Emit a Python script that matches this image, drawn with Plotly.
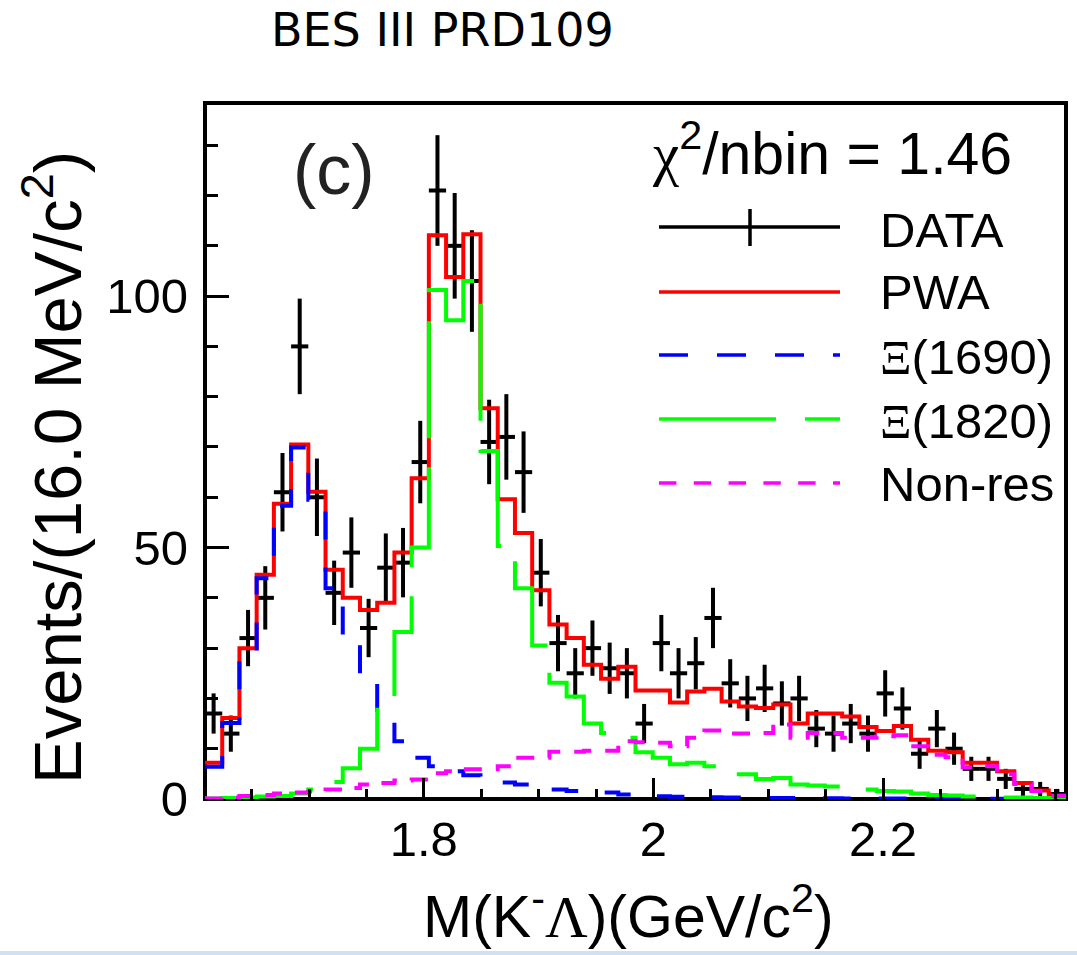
import numpy as np
import plotly.graph_objects as go

# Histogram binning of M(K-Lambda)
hist_lo = 1.6094
bin_width = 0.015
n_bins = 50
edges = hist_lo + bin_width * np.arange(n_bins + 1)
centers = edges[:-1] + bin_width / 2

# Data points (events per bin) and their statistical errors
data_counts = [17, 13, 32, 40, 61, 90, 60, 41, 49, 34, 46, 47, 67, 121, 110, 103, 71, 72, 65, 45,
               31, 25, 30, 26, 25, 15, 31, 25, 27, 36, 23, 20, 22, 19, 20, 14, 13, 15, 13, 21,
               18, 9, 14, 10, 6, 6, 4, 2, 2, 1]
data_errors = [4.0, 3.6, 5.6, 6.3, 7.8, 9.5, 7.7, 6.4, 7.0, 5.8, 6.8, 6.9, 8.2, 11.0, 10.5, 10.1, 8.4, 8.5, 8.1, 6.7,
               5.6, 5.0, 5.5, 5.1, 5.0, 3.9, 5.6, 5.0, 5.2, 6.0, 4.8, 4.5, 4.7, 4.4, 4.5, 3.7, 3.6, 3.9, 3.6, 4.6,
               4.2, 3.0, 3.7, 3.2, 2.4, 2.4, 2.0, 1.4, 1.4, 1.0]

# Fit projections
pwa = [7.2, 16.1, 30.0, 44.6, 58.7, 70.5, 61.1, 45.6, 40.0, 37.6, 39.0, 49.0, 63.8, 112.1, 103.8, 112.3, 77.7, 59.6, 52.9, 41.5,
       34.7, 32.0, 26.7, 23.9, 26.3, 21.6, 21.6, 19.2, 21.4, 21.9, 19.4, 18.4, 18.1, 18.8, 15.0, 17.0, 17.0, 16.4, 14.3, 13.5,
       14.5, 11.8, 9.6, 9.3, 7.2, 7.2, 5.5, 3.2, 1.7, 0.7]
xi1690 = [6.4, 15.1, 29.5, 43.9, 58.3, 69.9, 59.5, 41.9, 32.3, 23.2, 16.4, 11.5, 8.2, 6.5, 5.5, 4.7, 4.0, 3.3, 2.9, 2.5,
          1.9, 1.6, 1.4, 1.3, 0.9, 0.55, 0.55, 0.45, 0.35, 0.35, 0.3, 0.25, 0.2, 0.2, 0.18, 0.15, 0.13, 0.12, 0.1, 0.1,
          0.08, 0.07, 0.06, 0.05, 0.05, 0.04, 0.03, 0.03, 0.02, 0.01]
xi1820 = [0.1, 0.2, 0.3, 0.5, 0.6, 1.1, 1.9, 3.4, 6.1, 10.0, 19.4, 33.2, 50.0, 101.2, 95.2, 103.0, 69.2, 50.3, 41.9, 30.5,
          23.1, 20.4, 15.0, 13.1, 12.2, 9.3, 8.2, 6.9, 7.2, 6.5, 5.8, 4.9, 4.0, 4.2, 2.9, 2.7, 2.5, 2.2, 1.9, 1.6,
          1.5, 1.1, 0.8, 0.7, 0.5, 0.4, 0.3, 0.3, 0.2, 0.2]
nonres = [0.1, 0.3, 0.6, 0.8, 1.1, 1.3, 1.5, 1.9, 2.2, 2.9, 3.2, 3.7, 3.9, 5.1, 5.5, 5.9, 5.9, 6.5, 8.2, 8.2,
          9.4, 9.4, 9.6, 9.6, 11.5, 11.3, 11.2, 10.5, 12.2, 13.6, 13.0, 13.0, 13.1, 14.8, 12.2, 13.1, 13.1, 12.2, 12.2, 12.5,
          12.7, 10.5, 8.8, 8.3, 6.3, 6.5, 4.9, 3.0, 1.6, 0.6]

# Axis ticks
x_tick_vals = [1.8, 2.0, 2.2]
x_tick_text = ["1.8", "2", "2.2"]
y_tick_vals = [0, 50, 100]
y_tick_text = ["0", "50", "100"]

legend_labels = ["DATA", "PWA",
                 "<span style='font-family:Liberation Serif'>Ξ</span>(1690)",
                 "<span style='font-family:Liberation Serif'>Ξ</span>(1820)",
                 "Non-res"]

W, H = 1077, 955
L, R, T, B = 205, 1066, 103, 799
SANS = "Liberation Sans, Arial, Helvetica, sans-serif"


def px(x):
    return (x - L) / (R - L)


def py(y):
    return (B - y) / (B - T)


fig = go.Figure()

# data with error bars
fig.add_trace(go.Scatter(
    x=centers, y=data_counts, mode="markers",
    marker=dict(size=1, color="black"),
    error_x=dict(type="constant", value=bin_width / 2, width=0, thickness=4, color="black"),
    error_y=dict(type="data", array=data_errors, width=0, thickness=4, color="black"),
    showlegend=False, hoverinfo="skip"))


def add_step(vals, color, dash):
    fig.add_trace(go.Scatter(
        x=edges, y=list(vals) + [vals[-1]], mode="lines",
        line=dict(shape="hv", color=color, width=4, dash=dash),
        showlegend=False, hoverinfo="skip"))


add_step(pwa, "#ff0000", "solid")
add_step(xi1690, "#0000ff", "28px,28px")
add_step(xi1820, "#00ff00", "117px,29px")
add_step(nonres, "#ff00ff", "18px,14px")

shapes = [
    # frame
    dict(type="rect", xref="paper", yref="paper", x0=0, x1=1, y0=0, y1=1,
         line=dict(color="black", width=4), layer="below"),
    # page strip at the bottom
    dict(type="rect", xref="paper", yref="paper", x0=px(0), x1=px(W), y0=py(955), y1=py(951),
         line=dict(width=0), fillcolor="#cfe1f7", layer="below"),
]

# legend keys
leg_x0, leg_x1 = 659, 840
leg_rows = [227, 292, 355, 419, 483]
leg_styles = [("black", "solid"), ("#ff0000", "solid"), ("#0000ff", "29px,29px"),
              ("#00ff00", "117px,29px"), ("#ff00ff", "17.4px,17.4px")]
for yy, (c, d) in zip(leg_rows, leg_styles):
    shapes.append(dict(type="line", xref="paper", yref="paper", x0=px(leg_x0), x1=px(leg_x1),
                       y0=py(yy), y1=py(yy), line=dict(color=c, width=3.5, dash=d)))
shapes.append(dict(type="line", xref="paper", yref="paper", x0=px(750), x1=px(750),
                   y0=py(209), y1=py(246), line=dict(color="black", width=3.5)))

annotations = []


def text(x, y, s, size, xanchor="center", color="black", family=SANS, angle=0):
    annotations.append(dict(x=px(x), y=py(y), xref="paper", yref="paper", text=s, showarrow=False,
                            xanchor=xanchor, yanchor="middle", textangle=angle,
                            font=dict(size=size, color=color, family=family)))


text(442, 30, "BES III PRD109", 46, family="DejaVu Sans, Verdana, sans-serif")
text(334, 170, "(c)", 70, color="#222222")
text(832, 150, "<span style='font-family:Liberation Serif'>χ</span><sup>2</sup>/nbin = 1.46", 59)
for yy, lab in zip([230, 292, 357, 421, 484], legend_labels):
    text(878, yy, lab, 49, xanchor="left")
text(628, 912, "M(K<sup>-</sup><span style='font-family:Liberation Serif'>Λ</span>)(GeV/c<sup>2</sup>)", 59)
text(53, 468, "Events/(16.0 MeV/c<sup>2</sup>)", 67, angle=-90)

fig.update_layout(
    width=W, height=H,
    margin=dict(l=L, r=W - R, t=T, b=H - B, pad=0),
    paper_bgcolor="white", plot_bgcolor="rgba(0,0,0,0)",
    shapes=shapes, annotations=annotations,
    xaxis=dict(range=[hist_lo, hist_lo + n_bins * bin_width], showgrid=False, zeroline=False,
               showline=False, ticks="inside", ticklen=21, tickwidth=3, tickcolor="black",
               tickmode="array", tickvals=x_tick_vals, ticktext=x_tick_text,
               tickfont=dict(size=49, family=SANS, color="black"), ticklabelstandoff=7,
               minor=dict(tickmode="linear", tick0=1.6, dtick=0.05, ticks="inside", ticklen=10,
                          tickwidth=3, tickcolor="black", showgrid=False)),
    yaxis=dict(range=[0, 138.4], showgrid=False, zeroline=False,
               showline=False, ticks="inside", ticklen=24, tickwidth=3, tickcolor="black",
               tickmode="array", tickvals=y_tick_vals, ticktext=y_tick_text,
               tickfont=dict(size=49, family=SANS, color="black"), ticklabelstandoff=16,
               minor=dict(tickmode="linear", tick0=0, dtick=10, ticks="inside", ticklen=13,
                          tickwidth=3, tickcolor="black", showgrid=False)),
)

fig.write_html("out.html")
